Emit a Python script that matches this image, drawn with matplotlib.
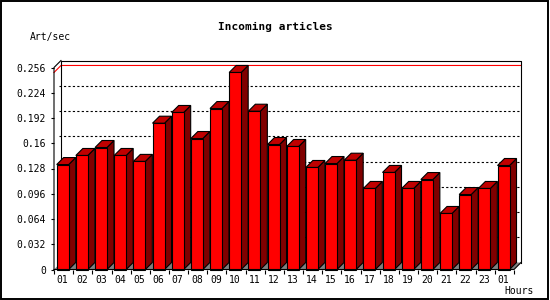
import numpy as np
import matplotlib
matplotlib.use("Agg")
import matplotlib.pyplot as plt
from matplotlib.patches import Polygon, Rectangle

# data
hours = ["01", "02", "03", "04", "05", "06", "07", "08", "09", "10", "11", "12",
         "13", "14", "15", "16", "17", "18", "19", "20", "21", "22", "23", "01"]
rate = [0.133, 0.1445, 0.1546, 0.1445, 0.137, 0.1854, 0.199, 0.166,
        0.204, 0.2497, 0.2006, 0.1584, 0.1559, 0.1293, 0.1343, 0.1385,
        0.1027, 0.123, 0.1027, 0.114, 0.071, 0.095, 0.1027, 0.1318]
yticks = [0, 0.032, 0.064, 0.096, 0.128, 0.16, 0.192, 0.224, 0.256]
ytick_labels = ["0", "0.032", "0.064", "0.096", "0.128", "0.16", "0.192", "0.224", "0.256"]

W, H = 550, 300
n = len(hours)
ymax = 0.256

# plot area (front plane) in pixels
left, right, top, bottom = 54, 514, 67.5, 269.5
depth = 7  # px of 3D shift

fig = plt.figure(figsize=(W / 100, H / 100), dpi=100)
ax = fig.add_axes([left / W, (H - bottom) / H, (right - left) / W, (bottom - top) / H])
ax.set_xlim(0, n)
ax.set_ylim(0, ymax)
for s in ax.spines.values():
    s.set_visible(False)

dx = depth * n / (right - left)
dy = depth * ymax / (bottom - top)
lw = 0.8

# floor
ax.add_patch(Polygon([(0, 0), (n, 0), (n + dx, dy), (dx, dy)], closed=True,
                     facecolor="#808080", edgecolor="none", zorder=1, clip_on=False))

# dotted grid on back wall
for v in yticks[1:-1]:
    ax.plot([dx - 0.1, n + dx], [v + dy, v + dy], color="black", lw=lw,
            ls=(0, (2, 2)), zorder=2, clip_on=False)

# max line
m = max(rate)
ax.plot([0, dx, n + dx], [m, m + dy, m + dy], color="#ff0000", lw=lw, zorder=2, clip_on=False)

# back frame
ax.plot([dx, dx, n + dx, n + dx], [dy, ymax + dy, ymax + dy, dy], color="black",
        lw=lw, zorder=2, clip_on=False)

# bars
off, bw = 0.14, 0.626
for i, v in enumerate(rate):
    x0 = i + off
    x1 = x0 + bw
    ax.add_patch(Polygon([(x1, 0), (x1 + dx, dy), (x1 + dx, v + dy), (x1, v)], closed=True,
                         facecolor="#800000", edgecolor="black", lw=lw, zorder=3, clip_on=False))
    ax.add_patch(Polygon([(x0, v), (x1, v), (x1 + dx, v + dy), (x0 + dx, v + dy)], closed=True,
                         facecolor="#c00000", edgecolor="black", lw=lw, zorder=3, clip_on=False))
    ax.add_patch(Rectangle((x0, 0), bw, v, facecolor="#ff0000", edgecolor="black",
                           lw=lw, zorder=3, clip_on=False))

# front axes and wall edges
ax.plot([0, 0, dx], [0, ymax, ymax + dy], color="black", lw=lw, zorder=5, clip_on=False)
ax.plot([0, n, n + dx], [0, 0, dy], color="black", lw=lw, zorder=5, clip_on=False)

font = "DejaVu Sans Mono"
ax.set_yticks(yticks)
ax.set_yticklabels(ytick_labels, fontfamily=font, fontsize=7)
ax.tick_params(axis="y", length=2.2, width=lw, pad=3.6)
ax.set_xticks(np.arange(n + 1))
ax.set_xticklabels([])
ax.tick_params(axis="x", which="major", length=3, width=lw)
ax.set_xticks(np.arange(n) + off + bw / 2, minor=True)
ax.set_xticklabels(hours, minor=True, fontfamily=font, fontsize=7)
ax.tick_params(axis="x", which="minor", length=0, pad=4)

fig.text(275 / W, 1 - 27 / H, "Incoming articles", ha="center", va="center",
         fontfamily=font, fontweight="bold", fontsize=8)
fig.text(30 / W, 1 - 37 / H, "Art/sec", ha="left", va="center", fontfamily=font, fontsize=7)
fig.text(534 / W, 1 - 291.5 / H, "Hours", ha="right", va="center", fontfamily=font, fontsize=7)

fig.patches.append(Rectangle((0.5 / W, 1.5 / H), 547 / W, 297.5 / H, transform=fig.transFigure,
                             fill=False, edgecolor="black", lw=1.4))

fig.savefig("out.png", dpi=100)
